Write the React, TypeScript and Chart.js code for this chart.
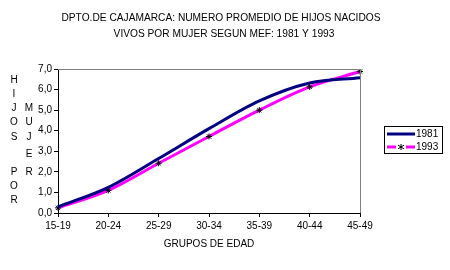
import React, { useEffect, useRef } from "react";
import { Chart, registerables } from "chart.js";

Chart.register(...registerables);

const categories = ["15-19", "20-24", "25-29", "30-34", "35-39", "40-44", "45-49"];
const series1981 = [0.3, 1.25, 2.65, 4.1, 5.45, 6.32, 6.58];
const series1993 = [0.25, 1.1, 2.42, 3.72, 5.0, 6.13, 6.88];
const titleLines = [
  "DPTO.DE CAJAMARCA: NUMERO PROMEDIO DE HIJOS NACIDOS",
  "VIVOS POR MUJER SEGUN MEF: 1981 Y 1993",
];
const xTitle = "GRUPOS DE EDAD";
const yTitleCol1 = ["H", "I", "J", "O", "S", "", "", "P", "O", "R"];
const yTitleCol2 = ["M", "U", "J", "E", "R"];
const legendLabels = ["1981", "1993"];

const NAVY = "#000080";
const MAGENTA = "#FF00FF";
const FONT = "'Liberation Sans', Arial, sans-serif";

const decorPlugin = {
  id: "decor",
  afterDraw(chart: any) {
    const ctx = chart.ctx as CanvasRenderingContext2D;
    const a = chart.chartArea;
    ctx.save();
    // top & right gray border
    ctx.strokeStyle = "#808080";
    ctx.lineWidth = 1;
    ctx.beginPath();
    ctx.moveTo(a.left, a.top + 0.5);
    ctx.lineTo(a.right + 0.5, a.top + 0.5);
    ctx.lineTo(a.right + 0.5, a.bottom);
    ctx.stroke();

    ctx.fillStyle = "#000";
    ctx.textAlign = "center";
    ctx.textBaseline = "middle";
    ctx.font = `10.2px ${FONT}`;
    ctx.fillText(titleLines[0], 221, 18);
    ctx.fillText(titleLines[1], 224, 34);

    ctx.font = `10px ${FONT}`;
    ctx.fillText(xTitle, (a.left + a.right) / 2, 244);

    // y title columns
    const ys1 = [80, 94, 108, 122, 137, 0, 0, 172, 186, 200];
    yTitleCol1.forEach((ch, i) => {
      if (ch) ctx.fillText(ch, 14, ys1[i]);
    });
    const ys2 = [108, 122, 137, 154, 172];
    yTitleCol2.forEach((ch, i) => ctx.fillText(ch, 29, ys2[i]));

    // legend
    ctx.strokeStyle = "#000";
    ctx.lineWidth = 1;
    ctx.strokeRect(384.5, 126.5, 58, 27);
    ctx.lineWidth = 3;
    ctx.strokeStyle = NAVY;
    ctx.beginPath();
    ctx.moveTo(387, 134);
    ctx.lineTo(415, 134);
    ctx.stroke();
    ctx.strokeStyle = MAGENTA;
    ctx.beginPath();
    ctx.moveTo(387, 147);
    ctx.lineTo(396, 147);
    ctx.moveTo(406, 147);
    ctx.lineTo(415, 147);
    ctx.stroke();
    // asterisk marker
    ctx.strokeStyle = "#000";
    ctx.lineWidth = 1;
    const cx = 401, cy = 147, r = 3;
    ctx.beginPath();
    ctx.moveTo(cx, cy - r);
    ctx.lineTo(cx, cy + r);
    ctx.moveTo(cx - r, cy - r * 0.6);
    ctx.lineTo(cx + r, cy + r * 0.6);
    ctx.moveTo(cx - r, cy + r * 0.6);
    ctx.lineTo(cx + r, cy - r * 0.6);
    ctx.stroke();
    ctx.fillStyle = "#000";
    ctx.textAlign = "left";
    ctx.font = `10px ${FONT}`;
    ctx.fillText(legendLabels[0], 416, 134);
    ctx.fillText(legendLabels[1], 416, 147);
    ctx.restore();
  },
};

export default function App() {
  const ref = useRef<HTMLCanvasElement>(null);
  useEffect(() => {
    if (!ref.current) return;
    const chart = new Chart(ref.current, {
      type: "line",
      data: {
        labels: categories,
        datasets: [
          {
            label: legendLabels[0],
            data: series1981,
            borderColor: NAVY,
            backgroundColor: NAVY,
            borderWidth: 3,
            pointRadius: 0,
            tension: 0.4,
            cubicInterpolationMode: "monotone",
          },
          {
            label: legendLabels[1],
            data: series1993,
            borderColor: MAGENTA,
            backgroundColor: "#000",
            borderWidth: 3,
            pointStyle: "star",
            pointRadius: 3,
            pointBorderColor: "#000",
            pointBorderWidth: 1,
            tension: 0.4,
            cubicInterpolationMode: "monotone",
          },
        ],
      },
      options: {
        animation: false,
        responsive: false,
        layout: { padding: { left: 0, top: 69, right: 90, bottom: 0 } },
        plugins: {
          legend: { display: false },
          title: { display: false },
          tooltip: { enabled: false },
        },
        scales: {
          x: {
            offset: false,
            grid: { drawOnChartArea: false, drawTicks: true, tickLength: 4, color: "#000" },
            border: { color: "#000", width: 1 },
            ticks: {
              color: "#000",
              font: { size: 10, family: FONT },
              padding: 3,
              maxRotation: 0,
              autoSkip: false,
            },
            afterFit: (s: any) => {
              s.height = 57;
            },
          },
          y: {
            min: 0,
            max: 7,
            grid: { drawOnChartArea: false, drawTicks: true, tickLength: 4, color: "#000" },
            border: { color: "#000", width: 1 },
            ticks: {
              stepSize: 1,
              color: "#000",
              font: { size: 10, family: FONT },
              padding: 2,
              callback: (v: any) => Number(v).toFixed(1).replace(".", ","),
            },
            afterFit: (s: any) => {
              s.width = 58;
            },
          },
        },
      },
      plugins: [decorPlugin],
    });
    return () => chart.destroy();
  }, []);
  return (
    <div style={{ position: "absolute", left: 0, top: 0, width: 450, height: 270, background: "#fff" }}>
      <canvas ref={ref} width={450} height={270} />
    </div>
  );
}
